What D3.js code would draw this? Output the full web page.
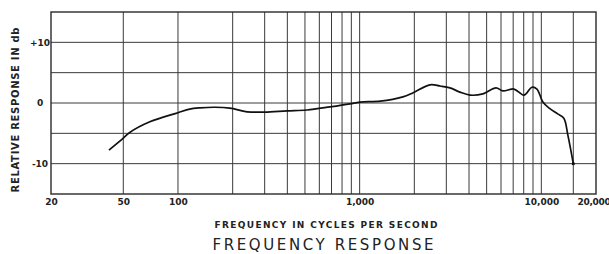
<!DOCTYPE html>
<html>
<head>
<meta charset="utf-8">
<script src="https://cdn.jsdelivr.net/npm/d3@7"></script>
<style>
  body { margin: 0; background: #fff; }
  svg { display: block; }
  text { font-family: "DejaVu Sans", sans-serif; fill: #222; }
</style>
</head>
<body>
<svg id="chart" width="609" height="254"></svg>
<script>
// values
const freq = [42, 50, 54, 70, 100, 116, 132, 160, 193, 240, 300, 398, 513, 686, 885, 1000, 1300, 1730, 1960, 2440, 2770, 3140, 3560, 4050, 4770, 5630, 6150, 7070, 8020, 8870, 9460, 10200, 11000, 12300, 13300, 14000, 15000];
const response = [-7.7, -5.8, -4.9, -3.1, -1.6, -1.0, -0.8, -0.7, -0.85, -1.45, -1.5, -1.3, -1.15, -0.65, -0.15, 0.15, 0.3, 1.0, 1.65, 3.0, 2.8, 2.5, 1.8, 1.3, 1.5, 2.5, 2.0, 2.3, 1.3, 2.6, 2.3, 0.15, -0.8, -1.8, -2.5, -5.3, -10];

const xGrid = [50, 100, 200, 300, 400, 500, 600, 700, 800, 900, 1000, 2000, 3000, 4000, 5000, 6000, 7000, 8000, 9000, 10000, 15000];
const yGrid = [-10, -5, 0, 5, 10];
const xTicks = [20, 50, 100, 1000, 10000, 20000];
const yTicks = [10, 0, -10];

const svg = d3.select("#chart");
const plotL = 51, plotR = 596, plotT = 12, plotB = 194;

const x = d3.scaleLog().domain([20, 20000]).range([plotL, plotR]);
const y = d3.scaleLinear().domain([-15, 15]).range([plotB, plotT]);

// grid
svg.append("g").selectAll("line").data(xGrid).enter().append("line")
  .attr("x1", d => x(d)).attr("x2", d => x(d))
  .attr("y1", plotT).attr("y2", plotB)
  .attr("stroke", "#3a3a3a").attr("stroke-width", 1);

svg.append("g").selectAll("line").data(yGrid).enter().append("line")
  .attr("x1", plotL).attr("x2", plotR)
  .attr("y1", d => y(d)).attr("y2", d => y(d))
  .attr("stroke", "#3a3a3a").attr("stroke-width", 1);

svg.append("rect")
  .attr("x", plotL).attr("y", plotT)
  .attr("width", plotR - plotL).attr("height", plotB - plotT)
  .attr("fill", "none").attr("stroke", "#2a2a2a").attr("stroke-width", 1.4);

// axes (labels only)
const xAxis = svg.append("g")
  .attr("transform", "translate(0," + plotB + ")")
  .call(d3.axisBottom(x).tickValues(xTicks).tickFormat(d3.format(",")).tickSize(0).tickPadding(5));
xAxis.select(".domain").remove();
xAxis.selectAll("text").style("font-size", "9px").style("font-weight", "bold").attr("fill", "#222");
// last label sits against the right edge of the page
xAxis.selectAll("text").filter(d => d === 20000)
  .attr("text-anchor", "start").attr("x", -19).style("letter-spacing", "-0.3px");

const yAxis = svg.append("g")
  .attr("transform", "translate(40,0)")
  .call(d3.axisLeft(y).tickValues(yTicks).tickFormat(d => d > 0 ? "+" + d : d).tickSize(0).tickPadding(0));
yAxis.select(".domain").remove();
yAxis.selectAll("text").style("font-size", "9px").style("font-weight", "bold")
  .attr("text-anchor", "middle").attr("fill", "#222");

// curve
const pts = freq.map((f, i) => [f, response[i]]);
svg.append("path")
  .datum(pts)
  .attr("fill", "none")
  .attr("stroke", "#111")
  .attr("stroke-width", 1.7)
  .attr("stroke-linecap", "round")
  .attr("d", d3.line().x(d => x(d[0])).y(d => y(d[1])).curve(d3.curveCatmullRom.alpha(0.5)));

svg.append("circle")
  .attr("cx", x(freq[freq.length - 1])).attr("cy", y(response[response.length - 1]))
  .attr("r", 1.6).attr("fill", "#111");

// titles
svg.append("text")
  .attr("transform", "translate(19,110) rotate(-90)")
  .attr("text-anchor", "middle")
  .attr("textLength", 165).attr("lengthAdjust", "spacing")
  .style("font-size", "10px").style("font-weight", "bold")
  .text("RELATIVE RESPONSE IN db");

svg.append("text")
  .attr("x", 326).attr("y", 228)
  .attr("text-anchor", "middle")
  .attr("textLength", 223).attr("lengthAdjust", "spacing")
  .style("font-size", "9px").style("font-weight", "bold")
  .text("FREQUENCY IN CYCLES PER SECOND");

svg.append("text")
  .attr("x", 323).attr("y", 250)
  .attr("text-anchor", "middle")
  .attr("textLength", 221).attr("lengthAdjust", "spacing")
  .style("font-size", "15px")
  .text("FREQUENCY  RESPONSE");
</script>
</body>
</html>
